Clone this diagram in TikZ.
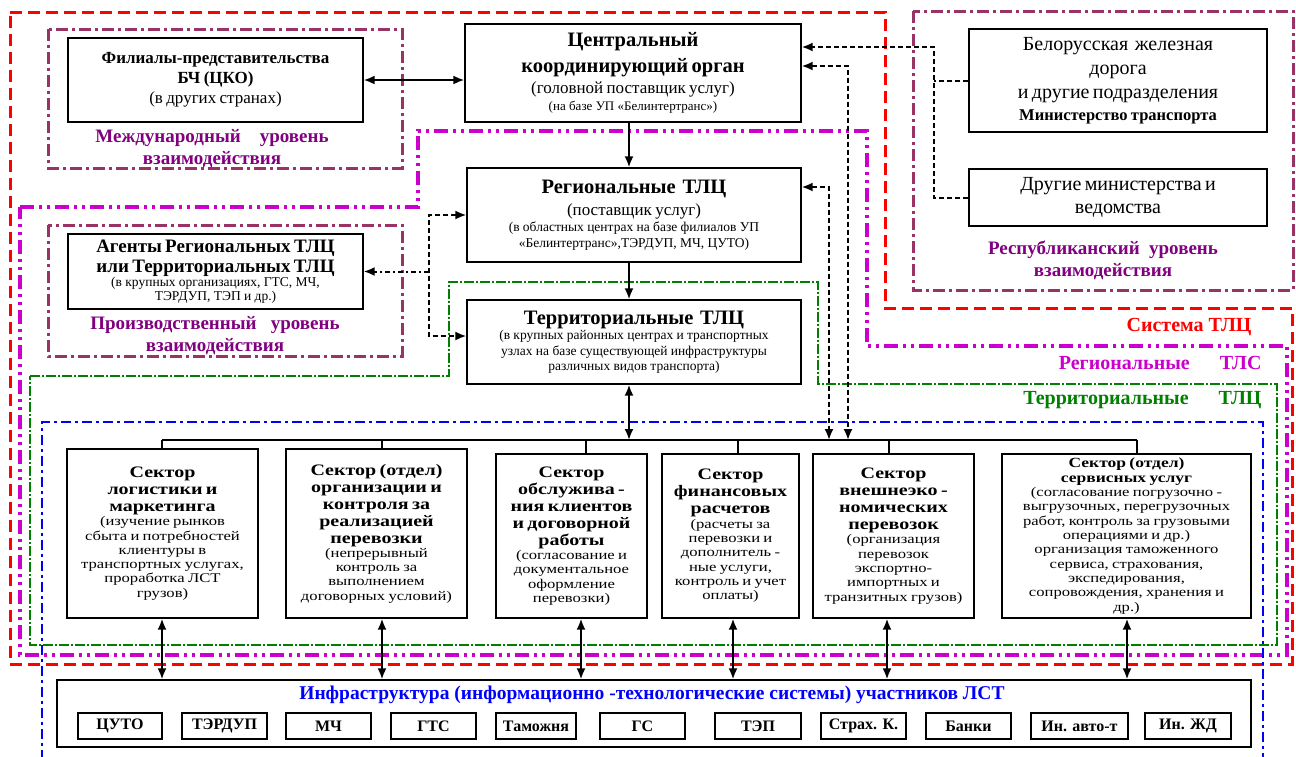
\documentclass[tikz,border=0pt]{standalone}
\usepackage{fontspec}
\setmainfont{Liberation Serif}
\newfontfamily\secfont[FakeStretch=1.25]{Liberation Serif}
\usetikzlibrary{arrows.meta}
\definecolor{sysred}{RGB}{255,0,0}
\definecolor{plumline}{RGB}{153,51,102}
\definecolor{plumtext}{RGB}{128,0,128}
\definecolor{regmag}{RGB}{204,0,204}
\definecolor{terrgreen}{RGB}{0,128,0}
\definecolor{infblue}{RGB}{0,0,255}
\newcommand{\fsz}[2]{\fontsize{#1}{#2}\selectfont}
\newcommand{\secb}{\secfont\bfseries\fsz{16}{17}}
\newcommand{\secr}{\secfont\fsz{13.3}{14.3}}
\tikzset{
  >={Latex[length=11pt,width=9pt]},
  tlcbox/.style={draw, line width=1.3pt, fill=white, align=center, inner sep=2pt},
  partbox/.style={draw, line width=1.3pt, fill=white, minimum height=26, inner sep=0pt, font=\bfseries\fsz{16}{18}},
  redzone/.style={draw=sysred, line width=3pt, dash pattern=on 12pt off 6pt},
  plumzone/.style={draw=plumline, line width=3pt, dash pattern=on 12pt off 4pt on 3pt off 4pt},
  magzone/.style={draw=regmag, line width=3.5pt, dash pattern=on 14pt off 5pt on 3pt off 5pt on 3pt off 5pt},
  greenzone/.style={draw=terrgreen, line width=2.5pt, dash pattern=on 10pt off 2pt on 2pt off 2pt},
  bluezone/.style={draw=infblue, line width=2.5pt, dash pattern=on 10pt off 4pt on 3pt off 4pt},
  solidlink/.style={line width=2pt},
  buswire/.style={line width=1.2pt},
  dashlink/.style={line width=2pt, dash pattern=on 5pt off 3pt},
  dotlink/.style={line width=2pt, dash pattern=on 5pt off 3pt on 2pt off 3pt},
  lvllabel/.style={text=plumtext, font=\bfseries\fsz{19}{22}, align=center},
  zonelabel/.style={anchor=east, font=\bfseries\fsz{20}{24}}
}
\begin{document}
\begin{tikzpicture}[x=1pt, y=-1pt]
  \useasboundingbox (0,0) rectangle (1296,756);
  \fill[white] (0,0) rectangle (1296,756);
  %% zones
  \draw[redzone] (10,12) -- (885,12) -- (885,308) -- (1292,308) -- (1292,664) -- (10,664) -- cycle;
  \draw[plumzone] (48,29) rectangle (402,168);
  \draw[plumzone] (48,225) rectangle (402,356);
  \draw[plumzone] (913,11) rectangle (1293,290);
  \draw[magzone] (20,207) -- (418,207) -- (418,131) -- (867,131) -- (867,346) -- (1287,346) -- (1287,655) -- (20,655) -- cycle;
  \draw[greenzone] (30,376) -- (449,376) -- (449,282) -- (818,282) -- (818,384) -- (1277,384) -- (1277,645) -- (30,645) -- cycle;
  \draw[bluezone] (42,760) -- (42,422) -- (1263,422) -- (1263,760);
  %% upper boxes
  \node[tlcbox, minimum width=295, minimum height=84, text width=291] (filial) at (215.5,80)
    {{\bfseries\fsz{17}{20}Филиалы-представительства\\ БЧ (ЦКО)\par}{\fsz{17}{20}(в других странах)\par}};
  \node[tlcbox, minimum width=336, minimum height=98, text width=332] (central) at (633,73)
    {{\bfseries\fsz{20.5}{26}Центральный\\ координирующий орган\par}{\fsz{17}{21}(головной поставщик услуг)\par}{\fsz{13}{17}(на базе УП «Белинтертранс»)\par}};
  \node[tlcbox, minimum width=334, minimum height=94, text width=330] (regional) at (634,215)
    {{\bfseries\fsz{20.5}{24}Региональные\ \ ТЛЦ\par}{\fsz{17}{22}(поставщик услуг)\par}{\fsz{13.5}{16}(в областных центрах на базе филиалов УП\\ «Белинтертранс»,ТЭРДУП, МЧ, ЦУТО)\par}};
  \node[tlcbox, minimum width=334, minimum height=84, text width=330] (territ) at (634,342)
    {{\bfseries\fsz{20.5}{24}Территориальные\ \ ТЛЦ\par}{\fsz{13.5}{15.5}(в крупных районных центрах и транспортных\\ узлах на базе существующей инфраструктуры\\ различных видов транспорта)\par}};
  \node[tlcbox, minimum width=298, minimum height=103, text width=294] (belrw) at (1118,80.5)
    {{\fsz{20}{24}Белорусская\ \ железная\\ дорога\\ и другие подразделения\par}{\bfseries\fsz{16.5}{22}Министерство транспорта\par}};
  \node[tlcbox, minimum width=298, minimum height=57, text width=294] (othermin) at (1118,197.5)
    {{\fsz{20}{23}Другие министерства и\\ ведомства\par}};
  \node[tlcbox, minimum width=295, minimum height=75, text width=291] (agents) at (215.5,271.5)
    {{\bfseries\fsz{19}{20}Агенты Региональных ТЛЦ\\ или Территориальных ТЛЦ\par}{\fsz{13.5}{14}(в крупных организациях, ГТС, МЧ,\\ ТЭРДУП, ТЭП и др.)\par}};
  %% level labels
  \node[lvllabel] (intlvl) at (212,149) {Международный\ \ \ \ уровень\\ взаимодействия};
  \node[lvllabel] (prodlvl) at (215,336) {Производственный\ \ \ уровень\\ взаимодействия};
  \node[lvllabel] (replvl) at (1103,260) {Республиканский\ \ уровень\\ взаимодействия};
  \node[zonelabel, text=sysred] (syslbl) at (1255,327) {Система ТЛЦ};
  \node[zonelabel, text=regmag] (reglbl) at (1265,363) {Региональные\ \ \ \ \ \ ТЛС};
  \node[zonelabel, text=terrgreen] (terlbl) at (1265,400) {Территориальные\ \ \ \ \ \ ТЛЦ};
  %% sectors
  \node[tlcbox, minimum width=191, minimum height=169, text width=187] (s1) at (162.5,533.5)
    {{\secb Сектор\\ логистики и\\ маркетинга\par}{\secr (изучение рынков\\ сбыта и потребностей\\ клиентуры в\\ транспортных услугах,\\ проработка ЛСТ\\ грузов)\par}\vspace*{10pt}};
  \node[tlcbox, minimum width=181, minimum height=169, text width=177] (s2) at (376.5,533.5)
    {{\secb Сектор (отдел)\\ организации и\\ контроля за\\ реализацией\\ перевозки\par}{\secr (непрерывный\\ контроль за\\ выполнением\\ договорных условий)\par}\vspace*{4pt}};
  \node[tlcbox, minimum width=151, minimum height=164, text width=147] (s3) at (571.5,536)
    {{\secb Сектор\\ обслужива -\\ ния клиентов\\ и договорной\\ работы\par}{\secr (согласование и\\ документальное\\ оформление\\ перевозки)\par}\vspace*{4pt}};
  \node[tlcbox, minimum width=137, minimum height=164, text width=133] (s4) at (730.5,536)
    {{\secb Сектор\\ финансовых\\ расчетов\par}{\secr (расчеты за\\ перевозки и\\ дополнитель -\\ ные услуги,\\ контроль и учет\\ оплаты)\par}\vspace*{6pt}};
  \node[tlcbox, minimum width=161, minimum height=164, text width=157] (s5) at (893.5,536)
    {{\secb Сектор\\ внешнеэко -\\ номических\\ перевозок\par}{\secr (организация\\ перевозок\\ экспортно-\\ импортных и\\ транзитных грузов)\par}\vspace*{6pt}};
  \node[tlcbox, minimum width=249, minimum height=164, text width=245] (s6) at (1126.5,536)
    {{\secfont\bfseries\fsz{14}{14.5}Сектор (отдел)\\ сервисных услуг\par}{\secr (согласование погрузочно -\\ выгрузочных, перегрузочных\\ работ, контроль за грузовыми\\ операциями и др.)\\ организация таможенного\\ сервиса, страхования,\\ экспедирования,\\ сопровождения, хранения и\\ др.)\par}};
  %% infrastructure
  \node[tlcbox, minimum width=1194, minimum height=67] (infra) at (654,713.5) {};
  \node[text=infblue, font=\bfseries\fsz{19.5}{22}] (infratitle) at (652,695)
    {Инфраструктура (информационно -технологические системы) участников ЛСТ};
  \foreach \nm/\xl/\xr/\lbl in {cuto/78/162/ЦУТО, terdup/182/267/ТЭРДУП, mch/286/371/МЧ,
      gts/391/476/ГТС, tamozh/496/576/Таможня, gs/600/685/ГС, tep/715/801/ТЭП,
      strah/821/906/Страх. К., banki/926/1011/Банки, inauto/1031/1128/Ин. авто-т,
      inzd/1145/1231/Ин. ЖД}
    \node[partbox, minimum width=\xr-\xl] (ib-\nm) at ({(\xl+\xr)/2},726) {\lbl};
  %% solid arrows
  \coordinate (spine) at (629,0);
  \coordinate (busL) at (162,440);
  \coordinate (busR) at (1137,440);
  \draw[solidlink, <->] (filial.east) -- (filial.east -| central.west);
  \draw[solidlink, ->] (central.south -| spine) -- (regional.north -| spine);
  \draw[solidlink, ->] (regional.south -| spine) -- (territ.north -| spine);
  \draw[buswire] (busL) -- (busR);
  \draw[solidlink, <->] (territ.south -| spine) -- (spine |- busL);
  \foreach \s/\x in {s1/162, s2/382, s3/586, s4/738, s5/889, s6/1137}
    \draw[buswire] (\x,0 |- busL) -- (\x,0 |- \s.north);
  \foreach \s/\x in {s1/162, s2/382, s3/581, s4/733, s5/887, s6/1127}
    \draw[solidlink, <->] (\x,0 |- \s.south) -- (\x,0 |- infra.north);
  %% dashed links
  \coordinate (rtrunk) at (934,47);
  \draw[dashlink, ->] (othermin.west) -- (othermin.west -| rtrunk) -- (rtrunk) -- (rtrunk -| central.east);
  \draw[dashlink] (belrw.west) -- (belrw.west -| rtrunk);
  \coordinate (cdrop) at (848,66);
  \draw[dashlink, <->] (cdrop -| central.east) -- (cdrop) -- (cdrop |- busL);
  \coordinate (rdrop) at (829,187);
  \draw[dashlink, <->] (rdrop -| regional.east) -- (rdrop) -- (rdrop |- busL);
  \coordinate (ltop) at (429,215);
  \coordinate (lbot) at (429,336);
  \draw[dashlink, <->] (ltop -| regional.west) -- (ltop) -- (lbot) -- (lbot -| territ.west);
  \draw[dotlink, ->] (agents.east -| ltop) -- (agents.east);
\end{tikzpicture}
\end{document}
